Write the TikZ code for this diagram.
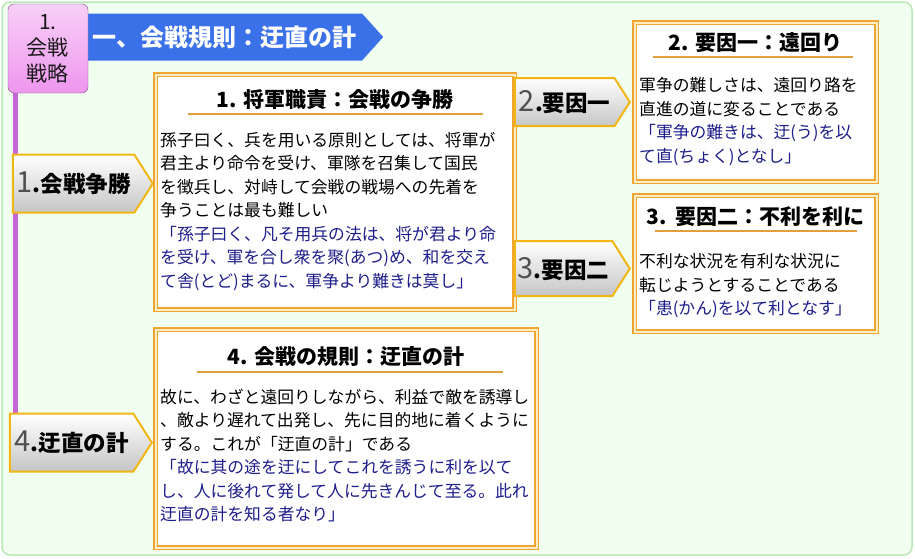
\documentclass[tikz,border=0pt]{standalone}
\usepackage{fontspec}
\newfontfamily\jp{Noto Sans CJK JP}
\usetikzlibrary{shapes.symbols, positioning, calc, backgrounds}
\usepackage{xcolor}
\definecolor{bgmint}{RGB}{240, 255, 240}
\definecolor{bgedge}{RGB}{185, 232, 185}
\definecolor{banner}{RGB}{58, 112, 232}
\definecolor{stratpink}{RGB}{238, 150, 238}
\definecolor{spine}{RGB}{196, 104, 214}
\definecolor{frame}{RGB}{240, 165, 50}
\definecolor{framein}{RGB}{255, 238, 195}
\definecolor{underline}{RGB}{222, 160, 60}
\definecolor{quote}{RGB}{30, 30, 140}
\definecolor{ribgold}{RGB}{242, 182, 20}
\definecolor{numgrey}{RGB}{80, 80, 80}
\newcommand{\rnum}[1]{{\mdseries\fontsize{29}{29}\selectfont\color{numgrey}#1}}

\begin{document}
\begin{tikzpicture}[
    x=1pt, y=-1pt,
    box/.style={rectangle, draw=frame, line width=1.2pt, double=framein, double distance=2pt, fill=white, anchor=north west, inner sep=0pt},
    title/.style={font=\jp\bfseries\fontsize{21}{21}\selectfont, inner sep=1pt},
    body/.style={font=\jp\fontsize{16.8}{23.5}\selectfont, align=left, inner sep=0pt},
    uline/.style={draw=underline, line width=2pt},
    ribbon/.style={signal, signal to=east, signal pointer angle=115, draw=ribgold, line width=2pt, top color=white, bottom color=gray!45, font=\jp\bfseries\fontsize{22.5}{22.5}\selectfont, inner sep=0pt}
]
\useasboundingbox (0,0) rectangle (915,558);

% Heading
\node[signal, signal to=east, signal pointer angle=96, fill=banner, text=white, minimum width=297pt, minimum height=47pt, anchor=west, font=\jp\bfseries\fontsize{24}{24}\selectfont] (head) at (86,37) {一、会戦規則：迂直の計};
\node[rectangle, rounded corners=6pt, draw=violet!40!gray, top color=stratpink!45, bottom color=stratpink, minimum width=80pt, minimum height=89pt, align=center, text=black!90, font=\jp\fontsize{21}{26}\selectfont] (strat) at (48,48.5) {1.\\会戦\\戦略};

% Box 1
\node[box, minimum width=359pt, minimum height=235pt] (b1) at (155,74) {};
\node[title, below=14.5pt of b1.north] (t1) {1. 将軍職責：会戦の争勝};
\draw[uline] ([xshift=-28pt,yshift=-3.5pt]t1.south west) -- ([xshift=28pt,yshift=-3.5pt]t1.south east);
\node[body, below right=57.6pt and 5pt of b1.north west] (d1) {孫子曰く、兵を用いる原則としては、将軍が\\
君主より命令を受け、軍隊を召集して国民\\
を徴兵し、対峙して会戦の戦場への先着を\\
争うことは最も難しい\\
\textcolor{quote}{「孫子曰く、凡そ用兵の法は、将が君より命}\\
\textcolor{quote}{を受け、軍を合し衆を聚(あつ)め、和を交え}\\
\textcolor{quote}{て舎(とど)まるに、軍争より難きは莫し」}};

% Box 2
\node[box, minimum width=242pt, minimum height=159pt] (b2) at (634,22) {};
\node[title, below=9.5pt of b2.north] (t2) {2. 要因一：遠回り};
\draw[uline] ([xshift=-15pt,yshift=-3.5pt]t2.south west) -- ([xshift=9pt,yshift=-3.5pt]t2.south east);
\node[body, below right=55.6pt and 5pt of b2.north west] (d2) {軍争の難しさは、遠回り路を\\
直進の道に変ることである\\
\textcolor{quote}{「軍争の難きは、迂(う)を以}\\
\textcolor{quote}{て直(ちょく)となし」}};

% Box 3
\node[box, minimum width=242pt, minimum height=136pt] (b3) at (634,195) {};
\node[title, below=10.5pt of b3.north] (t3) {3.\ \ 要因二：不利を利に};
\draw[uline] ([xshift=10pt,yshift=-3.5pt]t3.south west) -- ([xshift=-9pt,yshift=-3.5pt]t3.south east);
\node[body, below right=58.6pt and 5pt of b3.north west] (d3) {不利な状況を有利な状況に\\
転じようとすることである\\
\textcolor{quote}{「患(かん)を以て利となす」}};

% Box 4
\node[box, minimum width=381pt, minimum height=218pt] (b4) at (155,329) {};
\node[title, below=16.5pt of b4.north] (t4) {4. 会戦の規則：迂直の計};
\draw[uline] ([xshift=-30pt,yshift=-3.5pt]t4.south west) -- ([xshift=37pt,yshift=-3.5pt]t4.south east);
\node[body, below right=59.6pt and 5pt of b4.north west] (d4) {故に、わざと遠回りしながら、利益で敵を誘導し\\
、敵より遅れて出発し、先に目的地に着くように\\
する。これが「迂直の計」である\\
\textcolor{quote}{「故に其の途を迂にしてこれを誘うに利を以て}\\
\textcolor{quote}{し、人に後れて発して人に先きんじて至る。此れ}\\
\textcolor{quote}{迂直の計を知る者なり」}};

% Ribbons
\node[ribbon, minimum width=140pt, minimum height=58pt, left=1pt of b1.west, yshift=8.5pt] (r1) {\rnum{1}.会戦争勝};
\node[ribbon, minimum width=115pt, minimum height=48pt, left=3pt of b2.west] (r2) {\rnum{2}.要因一};
\node[ribbon, minimum width=115pt, minimum height=55pt, left=3pt of b3.west, yshift=-5pt] (r3) {\rnum{3}.要因二};
\node[ribbon, minimum width=142pt, minimum height=58pt, left=2pt of b4.west, yshift=-4pt] (r4) {\rnum{4}.迂直の計};

% Background and spine
\begin{scope}[on background layer]
\draw[fill=bgmint, draw=bgedge, line width=1.5pt, rounded corners=8pt] (2,2) rectangle (912,555);
\coordinate (spinetop) at ([xshift=8pt]strat.south west);
\draw[spine, line width=5pt] (spinetop) -- (spinetop |- r4.north);
\end{scope}

\end{tikzpicture}
\end{document}
